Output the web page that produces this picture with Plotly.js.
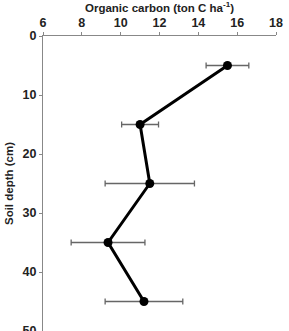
<!DOCTYPE html>
<html>
<head>
<meta charset="utf-8">
<script src="https://cdn.plot.ly/plotly-3.0.1.min.js"></script>
<style>html,body{margin:0;padding:0;background:#fff;overflow:hidden;}#chart{width:289px;height:347px;}</style>
</head>
<body>
<div id="chart"></div>
<script>
const depth = [5, 15, 25, 35, 45];
const carbon = [15.5, 11.0, 11.5, 9.35, 11.2];
const carbonErr = [1.1, 0.95, 2.3, 1.9, 2.0];
const xTicks = [6, 8, 10, 12, 14, 16, 18];
const yTicks = [0, 10, 20, 30, 40, 50];

const trace = {
  x: carbon, y: depth, type: 'scatter', mode: 'lines+markers',
  line: {color: '#000', width: 3},
  marker: {color: '#000', size: 9},
  error_x: {type: 'data', array: carbonErr, visible: true, color: '#666', thickness: 1.3, width: 3},
  hoverinfo: 'none'
};
const fnt = {family: 'Liberation Sans, Arial, sans-serif', size: 12.5, color: '#222', weight: 'bold'};
const layout = {
  width: 289, height: 347,
  margin: {l: 43, r: 13, t: 36, b: 16, pad: 0},
  paper_bgcolor: '#fff', plot_bgcolor: '#fff',
  showlegend: false,
  xaxis: {
    side: 'top', range: [6, 18], tickvals: xTicks, ticktext: xTicks.map(String),
    showgrid: false, zeroline: false, showline: true, linecolor: '#888', linewidth: 1,
    ticks: 'outside', ticklen: 3, tickcolor: '#888', tickfont: fnt,
    title: {text: 'Organic carbon (ton C ha<sup>-1</sup>)', font: {family: 'Liberation Sans, Arial, sans-serif', size: 11.5, color: '#222', weight: 'bold'}, standoff: 2}
  },
  yaxis: {
    range: [50, 0], tickvals: yTicks, ticktext: yTicks.map(String),
    showgrid: false, zeroline: false, showline: true, linecolor: '#888', linewidth: 1,
    ticks: 'outside', ticklen: 3, tickcolor: '#888', tickfont: fnt,
    title: {text: 'Soil depth (cm)', font: {family: 'Liberation Sans, Arial, sans-serif', size: 11.5, color: '#222', weight: 'bold'}, standoff: 6}
  }
};
Plotly.newPlot('chart', [trace], layout, {staticPlot: true, displayModeBar: false});
</script>
</body>
</html>
